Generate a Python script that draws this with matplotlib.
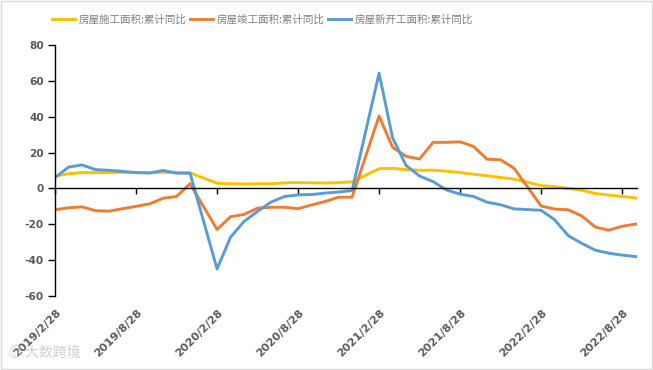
import pandas as pd
import matplotlib
matplotlib.use("Agg")
import matplotlib.pyplot as plt
from matplotlib.patches import Rectangle

# months with data (NBS has no separate January figure)
months = (
    [f"2019-{m:02d}" for m in range(2, 13)]
    + [f"2020-{m:02d}" for m in range(2, 13)]
    + [f"2021-{m:02d}" for m in range(2, 13)]
    + [f"2022-{m:02d}" for m in range(2, 10)]
)

construction = [6.8, 8.2, 8.8, 8.8, 8.8, 9.0, 8.8, 8.7, 9.0, 8.7, 8.7,
                2.9, 2.6, 2.5, 2.6, 2.6, 3.1, 3.3, 3.1, 3.0, 3.2, 3.7,
                11.0, 11.2, 10.5, 10.1, 10.2, 9.6, 8.9, 7.9, 7.1, 6.1, 5.2,
                1.6, 1.0, 0.0, -1.0, -2.8, -3.7, -4.5, -5.3]
completion = [-11.9, -10.8, -10.3, -12.4, -12.7, -11.3, -10.0, -8.6, -5.5, -4.5, 2.6,
              -22.9, -15.8, -14.5, -11.0, -10.5, -10.5, -11.3, -9.2, -7.3, -4.9, -4.9,
              40.4, 22.9, 17.9, 16.4, 25.7, 25.7, 26.0, 23.4, 16.3, 16.0, 11.2,
              -9.8, -11.5, -11.9, -15.3, -21.5, -23.3, -21.1, -19.9]
new_starts = [6.0, 11.9, 13.1, 10.5, 10.1, 9.5, 8.9, 8.6, 10.0, 8.6, 8.5,
              -44.9, -27.2, -18.4, -12.8, -7.6, -4.5, -3.6, -3.4, -2.6, -2.0, -1.2,
              64.3, 28.2, 12.8, 6.9, 3.8, -0.9, -3.2, -4.5, -7.7, -9.1, -11.4,
              -12.2, -17.5, -26.3, -30.6, -34.4, -36.1, -37.2, -38.0]

series_names = ["房屋施工面积:累计同比", "房屋竣工面积:累计同比", "房屋新开工面积:累计同比"]
colors = ["#FFC000", "#ED7D31", "#5B9BD5"]

tick_months = ["2019-02", "2019-08", "2020-02", "2020-08",
               "2021-02", "2021-08", "2022-02", "2022-08"]
tick_labels = ["2019/2/28", "2019/8/28", "2020/2/28", "2020/8/28",
               "2021/2/28", "2021/8/28", "2022/2/28", "2022/8/28"]
y_ticks = [-60, -40, -20, 0, 20, 40, 60, 80]

plt.rcParams["font.family"] = ["Noto Sans CJK SC", "DejaVu Sans"]

start = pd.Period(months[0], freq="M")


def month_pos(m):
    # position on a monthly date axis, January kept as an empty slot
    return (pd.Period(m, freq="M") - start).n


x = [month_pos(m) for m in months]
xt = [month_pos(m) for m in tick_months]

fig = plt.figure(figsize=(6.53, 3.70), dpi=100)
ax = fig.add_axes([55 / 653, 74 / 370, 582 / 653, 251 / 370])

for vals, name, c in zip([construction, completion, new_starts], series_names, colors):
    ax.plot(x, vals, color=c, lw=2.1, label=name, solid_joinstyle="round")

ax.set_xlim(0, 43.1)
ax.set_ylim(-60, 80)

for s in ["top", "right"]:
    ax.spines[s].set_visible(False)
ax.spines["bottom"].set_position(("data", 0))
ax.spines["bottom"].set_color("black")
ax.spines["bottom"].set_linewidth(1.0)
ax.spines["left"].set_color("black")
ax.spines["left"].set_linewidth(1.0)

ax.set_yticks(y_ticks)
ax.set_yticklabels([str(v) for v in y_ticks], fontsize=7.6, fontweight="bold",
                   color="#595959", family="DejaVu Sans")
ax.tick_params(axis="y", direction="out", length=5, width=1, color="black", pad=3)

ax.set_xticks(xt)
ax.set_xticklabels([])
ax.tick_params(axis="x", direction="out", length=4, width=1, color="black")

for pos, lab in zip(xt, tick_labels):
    ax.text(pos + 0.35, -0.06, lab, transform=ax.get_xaxis_transform(),
            rotation=45, rotation_mode="anchor", ha="right", va="center",
            fontsize=8, fontweight="bold", color="#595959", family="DejaVu Sans")

fig.legend(loc="center left", bbox_to_anchor=(48 / 653, 1 - 20 / 370), ncol=3,
           frameon=False, fontsize=7.6, handlelength=2.2, handletextpad=0.35,
           columnspacing=0.3, borderaxespad=0, labelcolor="#7f7f7f")

# faint watermark
fig.text(8 / 653, 17 / 370, "◎ 大数跨境", fontsize=10, color="#d0d0d0", va="center",
         family=["Noto Sans CJK SC", "DejaVu Sans"])

fig.patches.append(Rectangle((0.001, 0.002), 0.997, 0.995, transform=fig.transFigure,
                             fill=False, edgecolor="#d9d9d9", lw=1.0))

fig.savefig("out.png", dpi=100, facecolor="white")
